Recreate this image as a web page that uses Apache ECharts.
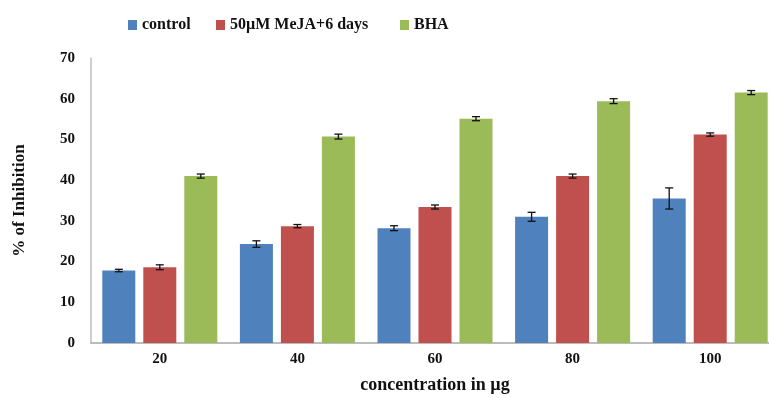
<!DOCTYPE html>
<html>
<head>
<meta charset="utf-8">
<script src="https://cdn.jsdelivr.net/npm/echarts@6/dist/echarts.min.js"></script>
<style>
  html, body { margin: 0; padding: 0; background: #fff; }
  #chart { width: 769px; height: 398px; }
</style>
</head>
<body>
<div id="chart"></div>
<script>
// 数据
const categories = ["20", "40", "60", "80", "100"];
const seriesNames = ["control", "50\u00b5M MeJA+6 days", "BHA"];
const controlValues = [17.8, 24.3, 28.2, 31.0, 35.5];
const controlErrors = [0.3, 0.8, 0.6, 1.1, 2.6];
const mejaValues = [18.6, 28.7, 33.4, 41.0, 51.2];
const mejaErrors = [0.6, 0.4, 0.5, 0.5, 0.4];
const bhaValues = [41.0, 50.7, 55.1, 59.4, 61.5];
const bhaErrors = [0.5, 0.6, 0.5, 0.6, 0.5];
const yTicks = [0, 10, 20, 30, 40, 50, 60, 70];

const colors = ["#4f81bd", "#c0504d", "#9bbb59"];
const font = "'Liberation Serif', 'Times New Roman', serif";
const barWidth = 33;
const barGap = 8;
const legendLeft = [123, 211, 395]; // 图例位置

const allValues = [controlValues, mejaValues, bhaValues];
const allErrors = [controlErrors, mejaErrors, bhaErrors];

let seriesData = [];
allValues.forEach((vals, i) => {
  seriesData.push({
    name: seriesNames[i],
    type: "bar",
    data: vals,
    barWidth: barWidth,
    barGap: (barGap / barWidth * 100) + "%",
    itemStyle: { color: colors[i] },
  });
});

// 误差线
let errData = [];
allValues.forEach((vals, i) => {
  vals.forEach((v, j) => {
    errData.push([j, v - allErrors[i][j], v + allErrors[i][j], i]);
  });
});
seriesData.push({
  type: "custom",
  data: errData,
  z: 10,
  silent: true,
  renderItem: function (params, api) {
    let idx = api.value(0);
    let s = api.value(3);
    let low = api.coord([idx, api.value(1)]);
    let high = api.coord([idx, api.value(2)]);
    let x = low[0] + (s - 1) * (barWidth + barGap);
    let cap = 4;
    let style = { stroke: "#111", lineWidth: 1.3 };
    return {
      type: "group",
      children: [
        { type: "line", shape: { x1: x, y1: high[1], x2: x, y2: low[1] }, style: style },
        { type: "line", shape: { x1: x - cap, y1: high[1], x2: x + cap, y2: high[1] }, style: style },
        { type: "line", shape: { x1: x - cap, y1: low[1], x2: x + cap, y2: low[1] }, style: style },
      ],
    };
  },
});

let legends = seriesNames.map((name, i) => ({
  data: [name],
  left: legendLeft[i],
  top: 12,
  itemWidth: 9,
  itemHeight: 10,
  icon: "rect",
  textStyle: { fontFamily: font, fontWeight: "bold", fontSize: 16, color: "#111" },
}));

let myChart = echarts.init(document.getElementById("chart"));
let option = {
  animation: false,
  legend: legends,
  grid: {
    left: 91,
    top: 58,
    width: 688,
    bottom: 55,
    containLabel: false,
    outerBoundsMode: "none",
  },
  xAxis: {
    type: "category",
    data: categories,
    name: "concentration in \u00b5g",
    nameLocation: "middle",
    nameGap: 33,
    nameTextStyle: { fontFamily: font, fontWeight: "bold", fontSize: 18, color: "#111" },
    axisTick: { show: false },
    axisLine: { lineStyle: { color: "#a6a6a6", width: 1.5 } },
    axisLabel: { fontFamily: font, fontWeight: "bold", fontSize: 15, color: "#111", margin: 9 },
  },
  yAxis: {
    type: "value",
    min: yTicks[0],
    max: yTicks[yTicks.length - 1],
    interval: 10,
    name: "% of Inhibition",
    nameLocation: "middle",
    nameGap: 63,
    nameTextStyle: { fontFamily: font, fontWeight: "bold", fontSize: 17, color: "#111" },
    axisLine: { show: true, lineStyle: { color: "#bfbfbf", width: 1.5 } },
    axisTick: { show: false },
    splitLine: { show: false },
    axisLabel: { fontFamily: font, fontWeight: "bold", fontSize: 15, color: "#111", margin: 16 },
  },
  series: seriesData,
};
myChart.setOption(option);
</script>
</body>
</html>
